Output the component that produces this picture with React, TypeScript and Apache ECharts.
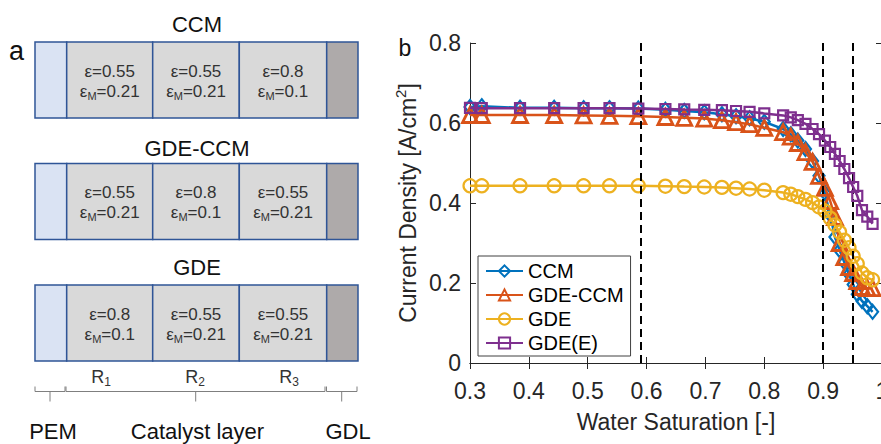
import React, { useEffect, useRef } from "react";
import * as echarts from "echarts";

const FONT = "'Liberation Sans', Arial, Helvetica, sans-serif";

// ---------- panel b data ----------
const saturation = [0.300, 0.320, 0.385, 0.443, 0.493, 0.537, 0.586, 0.632, 0.664, 0.698, 0.728, 0.752, 0.775, 0.800, 0.832, 0.845, 0.857, 0.870, 0.882, 0.893, 0.903, 0.912, 0.920, 0.928, 0.936, 0.944, 0.951, 0.958, 0.966, 0.975, 0.984];
const ccm = [0.640, 0.642, 0.638, 0.638, 0.637, 0.637, 0.636, 0.633, 0.630, 0.627, 0.622, 0.617, 0.612, 0.603, 0.585, 0.572, 0.556, 0.535, 0.505, 0.468, 0.425, 0.370, 0.315, 0.282, 0.252, 0.222, 0.196, 0.172, 0.155, 0.142, 0.128];
const gdeCcm = [0.620, 0.620, 0.620, 0.620, 0.619, 0.618, 0.617, 0.615, 0.613, 0.611, 0.607, 0.602, 0.597, 0.588, 0.577, 0.566, 0.550, 0.527, 0.503, 0.468, 0.438, 0.405, 0.365, 0.300, 0.265, 0.240, 0.225, 0.205, 0.190, 0.187, 0.187];
const gde = [0.443, 0.443, 0.443, 0.443, 0.443, 0.443, 0.443, 0.442, 0.441, 0.440, 0.439, 0.437, 0.435, 0.432, 0.426, 0.422, 0.416, 0.409, 0.401, 0.390, 0.380, 0.362, 0.345, 0.327, 0.307, 0.288, 0.267, 0.248, 0.225, 0.213, 0.208];
const gdeE = [0.638, 0.637, 0.637, 0.637, 0.637, 0.637, 0.636, 0.635, 0.634, 0.633, 0.632, 0.630, 0.628, 0.624, 0.619, 0.614, 0.607, 0.598, 0.585, 0.572, 0.556, 0.540, 0.523, 0.505, 0.485, 0.462, 0.440, 0.418, 0.382, 0.366, 0.348];
const seriesNames = ["CCM", "GDE-CCM", "GDE", "GDE(E)"];
const dashedSaturation = [0.594, 0.902, 0.955];

// ---------- panel a data ----------
const configNames = ["CCM", "GDE-CCM", "GDE"];
const porosity = [
  ["0.55", "0.55", "0.8"],
  ["0.55", "0.8", "0.55"],
  ["0.8", "0.55", "0.55"],
];
const ionomer = [
  ["0.21", "0.21", "0.1"],
  ["0.21", "0.1", "0.21"],
  ["0.1", "0.21", "0.21"],
];
const regionSubs = ["1", "2", "3"];
const layerLabels = ["PEM", "Catalyst layer", "GDL"];

const COLORS = ["#0072BD", "#D95319", "#EDB120", "#7E2F8E"];
const SYMBOLS: any[] = ["diamond", "triangle", "circle", "rect"];
const SYMSIZE: any[] = [[11, 14], 15, 13, 10];
const BORDERW = [2.2, 2.8, 2.2, 2.2];
const AXIS = "#262626";

function buildGraphics() {
  const els: any[] = [];
  const xs = [35, 66.7, 152.7, 239.3, 326.7, 358];
  const fills = ["#dae3f3", "#d9d9d9", "#d9d9d9", "#d9d9d9", "#aeaaaa"];
  const boxTops = [42, 163.5, 285];
  const titleY = [24, 148, 267];
  const boxH = 76;
  configNames.forEach((name, k) => {
    els.push({
      type: "text",
      x: 197,
      y: titleY[k],
      style: { text: name, fontSize: 22, fontFamily: FONT, fill: "#111", align: "center", verticalAlign: "middle" },
    });
    for (let j = 0; j < 5; j++) {
      els.push({
        type: "rect",
        shape: { x: xs[j], y: boxTops[k], width: xs[j + 1] - xs[j], height: boxH },
        style: { fill: fills[j], stroke: "#2f5597", lineWidth: 1.5 },
      });
    }
    for (let j = 0; j < 3; j++) {
      els.push({
        type: "text",
        x: (xs[j + 1] + xs[j + 2]) / 2,
        y: boxTops[k] + 39,
        style: {
          text: `{n|ε=${porosity[k][j]}}\n{n|ε}{s|M}{n|=${ionomer[k][j]}}`,
          align: "center",
          verticalAlign: "middle",
          rich: {
            n: { fontSize: 17, fontFamily: FONT, fill: "#333", lineHeight: 20 },
            s: { fontSize: 11, fontFamily: FONT, fill: "#333", padding: [9, 0, 0, 0] },
          },
        },
      });
    }
  });
  const rX = [101, 195, 289];
  regionSubs.forEach((s, j) => {
    els.push({
      type: "text",
      x: rX[j],
      y: 377,
      style: {
        text: `{n|R}{s|${s}}`,
        align: "center",
        verticalAlign: "middle",
        rich: {
          n: { fontSize: 18, fontFamily: FONT, fill: "#333", lineHeight: 20 },
          s: { fontSize: 12, fontFamily: FONT, fill: "#333", padding: [9, 0, 0, 0] },
        },
      },
    });
  });
  const brackets = [
    [35, 65, 50],
    [66, 325, 195.7],
    [326.5, 357, 341.7],
  ];
  brackets.forEach(([a, b, c]) => {
    els.push({
      type: "polyline",
      shape: { points: [[a, 386.5], [a, 391.5], [b, 391.5], [b, 386.5]] },
      style: { stroke: "#7f7f7f", lineWidth: 1, fill: null },
    });
    els.push({
      type: "line",
      shape: { x1: c, y1: 391.5, x2: c, y2: 401.5 },
      style: { stroke: "#7f7f7f", lineWidth: 1 },
    });
  });
  const lX = [53, 197.5, 348];
  layerLabels.forEach((t, j) => {
    els.push({
      type: "text",
      x: lX[j],
      y: 431,
      style: { text: t, fontSize: 22, fontFamily: FONT, fill: "#111", align: "center", verticalAlign: "middle" },
    });
  });
  els.push({
    type: "text",
    x: 16.5,
    y: 50.5,
    style: { text: "a", fontSize: 27, fontFamily: FONT, fill: "#111", align: "center", verticalAlign: "middle" },
  });
  els.push({
    type: "text",
    x: 405,
    y: 48,
    style: { text: "b", fontSize: 23, fontFamily: FONT, fill: "#111", align: "center", verticalAlign: "middle" },
  });
  return els;
}

const fmt = (v: number) => String(+v.toFixed(1));

export default function App() {
  const ref = useRef<HTMLDivElement>(null);
  useEffect(() => {
    if (!ref.current) return;
    const chart = echarts.init(ref.current, null, { renderer: "svg" });
    const allY = [ccm, gdeCcm, gde, gdeE];
    const axisCommon = {
      type: "value",
      axisLine: { show: true, lineStyle: { color: AXIS, width: 1 } },
      axisTick: { show: true, inside: true, length: 6, lineStyle: { color: AXIS, width: 1 } },
      splitLine: { show: false },
    };
    const option: any = {
      animation: false,
      backgroundColor: "#fff",
      textStyle: { fontFamily: FONT },
      grid: { left: 470, top: 43, width: 412, height: 320, containLabel: false, outerBoundsMode: "none" },
      xAxis: [
        {
          ...axisCommon,
          min: 0.3,
          max: 1,
          interval: 0.1,
          position: "bottom",
          axisLabel: { color: AXIS, fontSize: 23, fontFamily: FONT, margin: 16, formatter: fmt },
          name: "Water Saturation [-]",
          nameLocation: "middle",
          nameGap: 47,
          nameTextStyle: { color: AXIS, fontSize: 23, fontFamily: FONT, verticalAlign: "top" },
        },
        {
          ...axisCommon,
          min: 0.3,
          max: 1,
          interval: 0.1,
          position: "top",
          axisLabel: { show: false },
        },
      ],
      yAxis: [
        {
          ...axisCommon,
          min: 0,
          max: 0.8,
          interval: 0.2,
          position: "left",
          axisLabel: { color: AXIS, fontSize: 23, fontFamily: FONT, margin: 9, formatter: fmt },
          name: "{a|Current Density [A/cm}{s|2}{a|]}",
          nameLocation: "middle",
          nameGap: 48,
          nameTextStyle: {
            color: AXIS,
            fontSize: 23,
            fontFamily: FONT,
            rich: {
              a: { fontSize: 23, fontFamily: FONT, color: AXIS },
              s: { fontSize: 15, fontFamily: FONT, color: AXIS, padding: [0, 0, 14, 0] },
            },
          },
        },
        {
          ...axisCommon,
          min: 0,
          max: 0.8,
          interval: 0.2,
          position: "right",
          axisLabel: { show: false },
        },
      ],
      legend: {
        orient: "vertical",
        left: 478,
        top: 256,
        data: seriesNames,
        itemWidth: 37,
        itemHeight: 14,
        itemGap: 4,
        padding: [5, 7, 3, 7],
        borderColor: "#404040",
        borderWidth: 1,
        backgroundColor: "#fff",
        textStyle: { fontSize: 20, color: "#000", fontFamily: FONT, padding: [0, 0, 0, 0] },
      },
      series: [
        ...seriesNames.map((name, i) => ({
          name,
          type: "line",
          data: saturation.map((x, k) => [x, allY[i][k]]),
          symbol: SYMBOLS[i],
          symbolSize: SYMSIZE[i],
          showAllSymbol: true,
          color: COLORS[i],
          lineStyle: { color: COLORS[i], width: 2.5 },
          itemStyle: { color: "rgba(255,255,255,0)", borderColor: COLORS[i], borderWidth: BORDERW[i] },
          emphasis: { disabled: true },
          z: 2 + i,
        })),
        {
          name: "dashed",
          type: "line",
          data: [],
          z: 10,
          markLine: {
            silent: true,
            symbol: ["none", "none"],
            label: { show: false },
            lineStyle: { color: "#000", type: [8, 5], width: 2 },
            data: dashedSaturation.map((x) => ({ xAxis: x })),
          },
        },
      ],
      graphic: { elements: buildGraphics() },
    };
    chart.setOption(option);
    return () => chart.dispose();
  }, []);
  return <div ref={ref} style={{ position: "absolute", left: 0, top: 0, width: 881, height: 444 }} />;
}
